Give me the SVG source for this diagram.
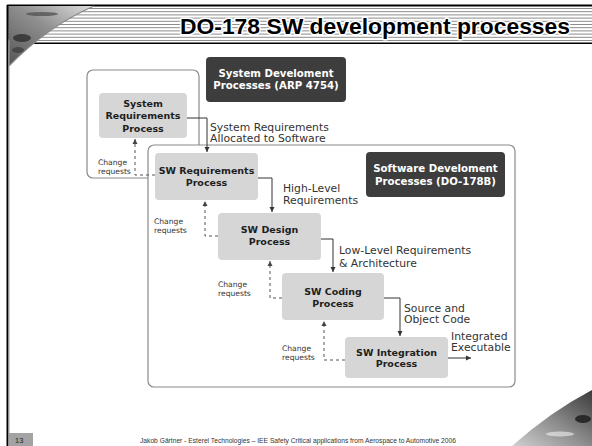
<svg xmlns="http://www.w3.org/2000/svg" width="592" height="446" viewBox="0 0 592 446">
  <style>
    .outer { fill: #ffffff; stroke: #8a8a8a; stroke-width: 1.2; }
    .proc { fill: #d6d6d6; }
    .dark { fill: #3d3d3d; }
    .ptxt { font-family: "DejaVu Sans", Verdana, sans-serif; font-weight: bold; font-size: 9.5px; fill: #1e1e1e; text-anchor: middle; }
    .dtxt { font-family: "DejaVu Sans", Verdana, sans-serif; font-weight: bold; font-size: 10.2px; fill: #ffffff; text-anchor: middle; }
    .lbl { font-family: "DejaVu Sans", Verdana, sans-serif; font-size: 10.8px; fill: #333333; }
    .cr { font-family: "DejaVu Sans", Verdana, sans-serif; font-size: 7.6px; fill: #333333; }
    .flow { fill: none; stroke: #333333; stroke-width: 1; marker-end: url(#arr); }
    .back { fill: none; stroke: #555555; stroke-width: 1; stroke-dasharray: 3 3; marker-end: url(#arr2); }
    .stripe { stroke: #8c8c8c; stroke-width: 1; }
  </style>
  <defs>
    <marker id="arr" markerUnits="userSpaceOnUse" markerWidth="6" markerHeight="6" refX="5" refY="3" orient="auto">
      <path d="M0,0.5 L5,3 L0,5.5 Z" fill="#333333"/>
    </marker>
    <marker id="arr2" markerUnits="userSpaceOnUse" markerWidth="6" markerHeight="6" refX="5" refY="3" orient="auto">
      <path d="M0,0.5 L5,3 L0,5.5 Z" fill="#444444"/>
    </marker>
    <linearGradient id="photoTL" x1="1" y1="0" x2="0" y2="1">
      <stop offset="0" stop-color="#e0e0e0"/>
      <stop offset="0.45" stop-color="#8f8f8f"/>
      <stop offset="1" stop-color="#555555"/>
    </linearGradient>
    <linearGradient id="photoBR" x1="0" y1="1" x2="1" y2="0">
      <stop offset="0" stop-color="#d0d0d0"/>
      <stop offset="0.5" stop-color="#8a8a8a"/>
      <stop offset="1" stop-color="#3a3a3a"/>
    </linearGradient>
  </defs>

  <rect width="592" height="446" fill="#ffffff"/>

  <!-- slide header: striped band -->
  <g id="header">
    <line class="stripe" x1="8" y1="8.5" x2="592" y2="8.5"/>
    <line class="stripe" x1="8" y1="11.7" x2="592" y2="11.7"/>
    <line class="stripe" x1="8" y1="14.9" x2="592" y2="14.9"/>
    <line class="stripe" x1="8" y1="18.1" x2="592" y2="18.1"/>
    <line class="stripe" x1="8" y1="21.3" x2="592" y2="21.3"/>
    <line class="stripe" x1="8" y1="24.5" x2="592" y2="24.5"/>
    <line class="stripe" x1="8" y1="27.7" x2="592" y2="27.7"/>
    <line class="stripe" x1="8" y1="30.9" x2="592" y2="30.9"/>
    <line class="stripe" x1="8" y1="34.1" x2="592" y2="34.1"/>
    <line class="stripe" x1="8" y1="37.3" x2="592" y2="37.3"/>
    <line class="stripe" x1="8" y1="40.5" x2="592" y2="40.5"/>
    <line x1="7" y1="5.5" x2="592" y2="5.5" stroke="#000000" stroke-width="2"/>
    <line x1="30" y1="43.3" x2="592" y2="43.3" stroke="#000000" stroke-width="1.4"/>
    <!-- corner photo -->
    <path d="M8,6 H94 Q48,26 9,66 Z" fill="url(#photoTL)"/>
    <ellipse cx="42" cy="14" rx="16" ry="2" fill="#4a4a4a" opacity="0.7"/>
    <ellipse cx="22" cy="38" rx="9" ry="4" fill="#2e2e2e" opacity="0.8"/>
    <ellipse cx="18" cy="50" rx="6" ry="3" fill="#3a3a3a" opacity="0.7"/>
    <path d="M94,6 Q48,26 9,66" fill="none" stroke="#8a8a8a" stroke-width="1.2"/>
    <text x="180" y="34" textLength="390" lengthAdjust="spacingAndGlyphs" font-family="'Liberation Sans', Arial, sans-serif" font-weight="bold" font-size="22.8" fill="#000000" stroke="#ffffff" stroke-width="3" paint-order="stroke" stroke-linejoin="round">DO-178 SW development processes</text>
  </g>

  <!-- left frame rule -->
  <line x1="7.5" y1="5" x2="7.5" y2="446" stroke="#000000" stroke-width="2"/>
  <line x1="9" y1="40" x2="9" y2="446" stroke="#a0a0a0" stroke-width="1"/>

  <!-- enclosing process areas -->
  <g id="system-area">
    <rect class="outer" x="87" y="70" width="112" height="108" rx="6"/>
  </g>
  <g id="software-area">
    <rect class="outer" x="148" y="145" width="367" height="242" rx="6"/>
  </g>

  <g id="arp4754-title">
    <rect class="dark" x="206" y="57" width="140" height="45" rx="4"/>
    <text class="dtxt" x="276" y="77">System Develoment</text>
    <text class="dtxt" x="276" y="89">Processes (ARP 4754)</text>
  </g>

  <g id="do178b-title">
    <rect class="dark" x="366" y="152" width="139" height="45" rx="4"/>
    <text class="dtxt" x="435.5" y="172">Software Develoment</text>
    <text class="dtxt" x="435.5" y="185.4">Processes (DO-178B)</text>
  </g>

  <g id="system-requirements">
    <rect class="proc" x="99" y="93" width="88" height="45" rx="4"/>
    <text class="ptxt" x="143" y="106.7">System</text>
    <text class="ptxt" x="143" y="119">Requirements</text>
    <text class="ptxt" x="143" y="131.7">Process</text>
  </g>

  <g id="sw-requirements">
    <rect class="proc" x="155" y="153" width="103" height="47" rx="4"/>
    <text class="ptxt" x="206.5" y="174.4">SW Requirements</text>
    <text class="ptxt" x="206.5" y="186.1">Process</text>
  </g>

  <g id="sw-design">
    <rect class="proc" x="218" y="213" width="103" height="47" rx="4"/>
    <text class="ptxt" x="269.5" y="233.4">SW Design</text>
    <text class="ptxt" x="269.5" y="245.1">Process</text>
  </g>

  <g id="sw-coding">
    <rect class="proc" x="282" y="273" width="102" height="47" rx="4"/>
    <text class="ptxt" x="333" y="295">SW Coding</text>
    <text class="ptxt" x="333" y="306.7">Process</text>
  </g>

  <g id="sw-integration">
    <rect class="proc" x="345" y="337" width="103" height="41" rx="4"/>
    <text class="ptxt" x="396.5" y="356">SW Integration</text>
    <text class="ptxt" x="396.5" y="366.5">Process</text>
  </g>

  <g id="connectors">
    <path class="flow" d="M187,118 H207 V152"/>
    <path class="flow" d="M258,178 H272 V212"/>
    <path class="flow" d="M321,239 H333 V272"/>
    <path class="flow" d="M384,298 H400 V336"/>
    <path class="flow" d="M448,358 H471"/>

    <path class="back" d="M155,175 H135 V139"/>
    <path class="back" d="M218,236 H205 V201"/>
    <path class="back" d="M282,298 H270 V261"/>
    <path class="back" d="M345,360 H324 V321"/>

    <text class="lbl" x="210" y="130.6">System Requirements</text>
    <text class="lbl" x="210" y="142.2">Allocated to Software</text>
    <text class="lbl" x="283" y="191.6">High-Level</text>
    <text class="lbl" x="283" y="203.9">Requirements</text>
    <text class="lbl" x="339" y="253.9">Low-Level Requirements</text>
    <text class="lbl" x="339" y="266.6">&amp; Architecture</text>
    <text class="lbl" x="404" y="311.6">Source and</text>
    <text class="lbl" x="404" y="323.2">Object Code</text>
    <text class="lbl" x="451" y="339.6">Integrated</text>
    <text class="lbl" x="451" y="351.2">Executable</text>

    <text class="cr" x="98" y="165.4">Change</text>
    <text class="cr" x="98" y="174.4">requests</text>
    <text class="cr" x="154" y="224.4">Change</text>
    <text class="cr" x="154" y="233.4">requests</text>
    <text class="cr" x="218" y="287">Change</text>
    <text class="cr" x="218" y="296">requests</text>
    <text class="cr" x="282" y="351">Change</text>
    <text class="cr" x="282" y="360">requests</text>
  </g>

  <!-- footer -->
  <g id="footer">
    <path d="M592,390 Q550,412 512,446 H592 Z" fill="url(#photoBR)"/>
    <ellipse cx="583" cy="419" rx="8" ry="4" fill="#1e1e1e" opacity="0.85"/>
    <ellipse cx="560" cy="434" rx="14" ry="2.5" fill="#f0f0f0" opacity="0.6"/>
    <rect x="9" y="433" width="24" height="13" fill="#a3a3a3"/>
    <text x="15" y="443" font-family="'Liberation Sans', Arial, sans-serif" font-size="7.5" fill="#222222">13</text>
    <text x="140" y="443" textLength="316" lengthAdjust="spacingAndGlyphs" font-family="'Liberation Sans', Arial, sans-serif" font-size="6.5" fill="#333333">Jakob Gärtner -  Esterel Technologies – IEE Safety Critical applications from Aerospace to Automotive 2006</text>
  </g>
</svg>
